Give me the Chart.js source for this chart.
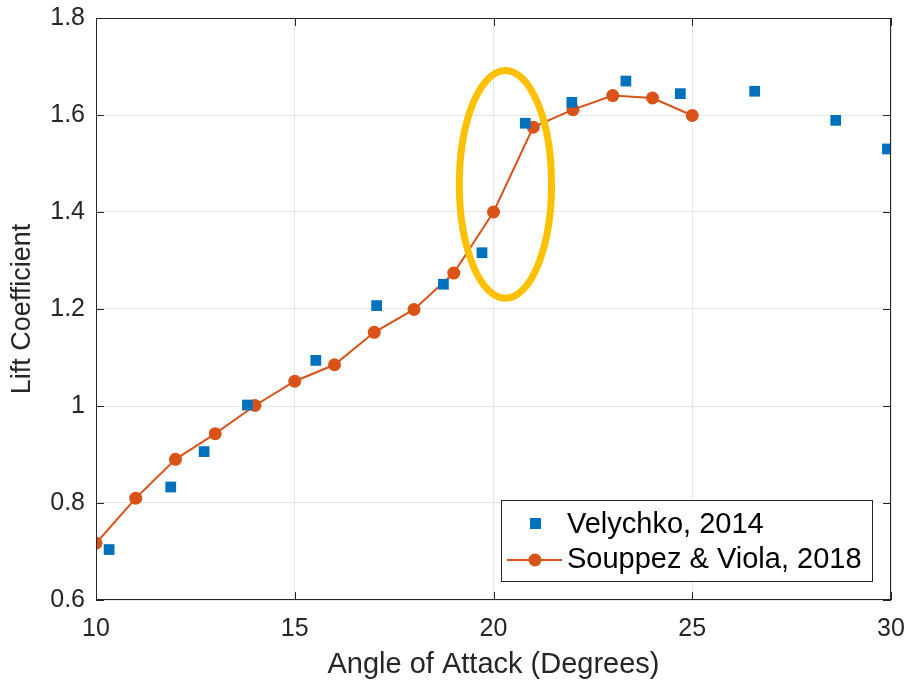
<!DOCTYPE html>
<html>
<head>
<meta charset="utf-8">
<script src="https://cdn.jsdelivr.net/npm/chart.js@4"></script>
<style>
  body { margin: 0; background: #fff; }
  canvas { display: block; }
</style>
</head>
<body>
<canvas id="liftChart" width="912" height="686"></canvas>
<script>
const velychkoAngle = [10.33, 11.88, 12.72, 13.81, 15.53, 17.06, 18.74, 19.71, 20.80, 21.97, 23.33, 24.70, 26.57, 28.61, 29.91];
const velychkoLift = [0.704, 0.833, 0.906, 1.002, 1.094, 1.207, 1.251, 1.316, 1.583, 1.626, 1.670, 1.644, 1.649, 1.589, 1.530];

const souppezAngle = [10, 11, 12, 13, 14, 15, 16, 17, 18, 19, 20, 21, 22, 23, 24, 25];
const souppezLift = [0.717, 0.810, 0.890, 0.943, 1.001, 1.051, 1.085, 1.152, 1.199, 1.274, 1.400, 1.575, 1.611, 1.640, 1.635, 1.599];

// highlight ellipse around the stall jump (data units)
const ellipseCenter = [20.3, 1.457];
const ellipseRadius = [1.16, 0.235];

const font = "'Liberation Sans', Arial, sans-serif";
const blue = "#0072BD";
const orange = "#D95319";

const toPoints = (xs, ys) => xs.map((x, i) => ({ x: x, y: ys[i] }));

const frame = {
  id: "frame",
  afterDatasetsDraw(chart) {
    const { ctx, chartArea: a, scales } = chart;
    ctx.save();
    // ellipse annotation
    const cx = scales.x.getPixelForValue(ellipseCenter[0]);
    const cy = scales.y.getPixelForValue(ellipseCenter[1]);
    const rx = scales.x.getPixelForValue(ellipseCenter[0] + ellipseRadius[0]) - cx;
    const ry = cy - scales.y.getPixelForValue(ellipseCenter[1] + ellipseRadius[1]);
    ctx.beginPath();
    ctx.ellipse(cx, cy, rx, ry, 0, 0, Math.PI * 2);
    ctx.strokeStyle = "#FFC000";
    ctx.lineWidth = 7;
    ctx.stroke();

    // box + inward ticks
    ctx.strokeStyle = "#262626";
    ctx.lineWidth = 1;
    ctx.strokeRect(a.left + 0.5, a.top + 0.5, a.right - a.left - 1, a.bottom - a.top - 1);
    ctx.beginPath();
    scales.x.ticks.forEach(t => {
      const px = Math.round(scales.x.getPixelForValue(t.value)) + 0.5;
      ctx.moveTo(px, a.bottom); ctx.lineTo(px, a.bottom - 8);
      ctx.moveTo(px, a.top); ctx.lineTo(px, a.top + 8);
    });
    scales.y.ticks.forEach(t => {
      const py = Math.round(scales.y.getPixelForValue(t.value)) + 0.5;
      ctx.moveTo(a.left, py); ctx.lineTo(a.left + 8, py);
      ctx.moveTo(a.right, py); ctx.lineTo(a.right - 8, py);
    });
    ctx.stroke();

    // legend box
    const lx = a.right - 390, ly = a.bottom - 100, lw = 371, lh = 81;
    ctx.fillStyle = "#fff";
    ctx.fillRect(lx, ly, lw, lh);
    ctx.strokeStyle = "#262626";
    ctx.strokeRect(lx + 0.5, ly + 0.5, lw, lh);
    ctx.font = "29px " + font;
    ctx.textBaseline = "middle";
    ctx.fillStyle = "#000";
    ctx.fillText(chart.data.datasets[0].label, lx + 66, ly + 25);
    ctx.fillText(chart.data.datasets[1].label, lx + 66, ly + 60);
    ctx.fillStyle = blue;
    ctx.fillRect(lx + 29, ly + 18, 11, 11);
    ctx.strokeStyle = orange;
    ctx.lineWidth = 2;
    ctx.beginPath();
    ctx.moveTo(lx + 6, ly + 60); ctx.lineTo(lx + 61, ly + 60);
    ctx.stroke();
    ctx.fillStyle = orange;
    ctx.beginPath();
    ctx.arc(lx + 34, ly + 60, 6.5, 0, Math.PI * 2);
    ctx.fill();
    ctx.restore();
  }
};

new Chart(document.getElementById("liftChart").getContext("2d"), {
  type: "scatter",
  data: {
    datasets: [
      {
        label: "Velychko, 2014",
        data: toPoints(velychkoAngle, velychkoLift),
        pointStyle: "rect",
        pointRadius: 7.6,
        backgroundColor: blue,
        borderColor: blue,
        borderWidth: 0,
      },
      {
        label: "Souppez & Viola, 2018",
        data: toPoints(souppezAngle, souppezLift),
        showLine: true,
        borderColor: orange,
        backgroundColor: orange,
        borderWidth: 2,
        pointRadius: 6.5,
        pointBorderWidth: 0,
      },
    ],
  },
  options: {
    responsive: false,
    animation: false,
    layout: { padding: { top: 18, right: 21, left: 0, bottom: 0 } },
    plugins: { legend: { display: false }, tooltip: { enabled: false } },
    scales: {
      x: {
        min: 10,
        max: 30,
        ticks: { stepSize: 5, color: "#262626", font: { family: font, size: 25 }, padding: 14, maxRotation: 0 },
        grid: { color: "#e6e6e6", drawTicks: false },
        border: { display: false },
        title: { display: true, text: "Angle of Attack (Degrees)", color: "#262626", font: { family: font, size: 29 }, padding: { top: 4 } },
        afterFit(s) { s.height = 86; s.paddingLeft = 0; s.paddingRight = 0; },
      },
      y: {
        min: 0.6,
        max: 1.8,
        ticks: {
          stepSize: 0.2,
          color: "#262626",
          font: { family: font, size: 25 },
          padding: 11,
          callback: v => String(Number(v.toFixed(1))),
        },
        grid: { color: "#e6e6e6", drawTicks: false },
        border: { display: false },
        title: { display: true, text: "Lift Coefficient", color: "#262626", font: { family: font, size: 27 }, padding: { top: 6, bottom: 0 } },
        afterFit(s) { s.width = 96; s.paddingTop = 0; s.paddingBottom = 0; },
      },
    },
  },
  plugins: [frame],
});
</script>
</body>
</html>
